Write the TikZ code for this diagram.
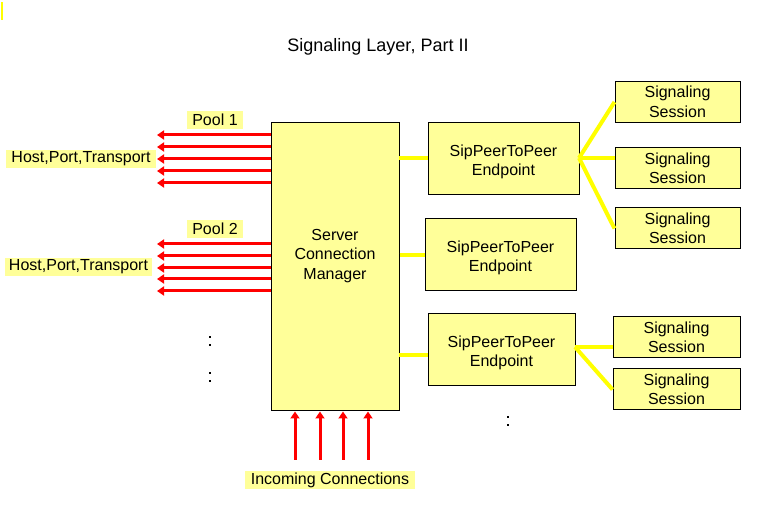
\documentclass[tikz,border=0pt]{standalone}
\usepackage{fontspec}
\setmainfont{Liberation Sans}
\usetikzlibrary{arrows.meta}
\definecolor{boxfill}{HTML}{FFFF99}
\definecolor{conn}{HTML}{FFFF00}
\definecolor{arr}{HTML}{FF0000}
\tikzset{
  box/.style={draw=black, line width=1pt, fill=boxfill, inner sep=0pt},
  btext/.style={align=center, inner sep=0pt, font=\fontsize{16}{19.5}\selectfont},
  lbl/.style={fill=boxfill, inner xsep=3pt, inner ysep=0pt, minimum height=18pt,
    font=\fontsize{16}{19}\selectfont},
  yconn/.style={draw=conn, line width=4pt},
  rarrow/.style={draw=arr, line width=3pt, -{Triangle[length=7pt,width=9pt]}},
}
\begin{document}
\begin{tikzpicture}[x=1pt,y=-1pt]
\useasboundingbox (0,0) rectangle (761,518);
\fill[white] (0,0) rectangle (761,518);
\draw[conn, line width=1.5pt] (2,2) -- (2,20);
\node[font=\fontsize{18}{21}\selectfont] (title) at (378,47) {Signaling Layer, Part II};

% main boxes
\node[box, minimum width=128pt, minimum height=288pt] (scm) at (335,267) {};
\node[btext] (scmt) at (335,256) {Server\\Connection\\Manager};
\node[box, minimum width=151pt, minimum height=72pt] (e1) at (503.5,159) {};
\node[btext] (e1t) at (e1.center) [yshift=-3pt] {SipPeerToPeer\\Endpoint};
\node[box, minimum width=151pt, minimum height=72pt] (e2) at (500.5,255) {};
\node[btext] (e2t) at (e2.center) [yshift=-3pt] {SipPeerToPeer\\Endpoint};
\node[box, minimum width=147pt, minimum height=72pt] (e3) at (501.5,350) {};
\node[btext] (e3t) at (e3.center) [yshift=-3pt] {SipPeerToPeer\\Endpoint};
\node[box, btext, minimum width=125pt, minimum height=41pt] (s1) at (677.5,102) {Signaling\\Session};
\node[box, btext, minimum width=125pt, minimum height=41pt] (s2) at (677.5,168.5) {Signaling\\Session};
\node[box, btext, minimum width=125pt, minimum height=41pt] (s3) at (677.5,228.5) {Signaling\\Session};
\node[box, btext, minimum width=127pt, minimum height=41pt] (s4) at (676.5,337.5) {Signaling\\Session};
\node[box, btext, minimum width=127pt, minimum height=41pt] (s5) at (676.5,389.5) {Signaling\\Session};

% yellow connectors
\coordinate (c1) at (399,158);
\coordinate (c3) at (399,355);
\coordinate (f1) at (579,158);
\coordinate (f2) at (575,347);
\draw[yconn] (c1) -- (c1 -| e1.west);
\draw[yconn] (scm.east |- e2) -- (e2.west);
\draw[yconn] (c3) -- (c3 -| e3.west);
\draw[yconn] (f1) -- (s1.west);
\draw[yconn] (f1) -- (f1 -| s2.west);
\draw[yconn] (f1) -- (s3.west);
\draw[yconn] (f2) -- (f2 -| s4.west);
\draw[yconn] (f2) -- (s5.west);

% labels
\node[lbl, minimum width=56pt] (p1) at (215,120) {Pool 1};
\node[lbl, minimum width=56pt] (p2) at (215,229) {Pool 2};
\node[lbl, minimum width=150pt] (h1) at (81,159) {Host,Port,Transport};
\node[lbl, minimum width=147pt] (h2) at (78.5,267) {Host,Port,Transport};
\node[lbl, minimum width=170pt] (inc) at (330,480) {Incoming Connections};

% outgoing red arrows
\foreach \y in {135,147,159,171,183,244,256,268,279,291} {
  \coordinate (t\y) at (157,\y);
  \draw[rarrow] (scm.west |- t\y) -- (t\y);
}
% incoming red arrows
\foreach \x in {295,320,343,368} {
  \coordinate (b\x) at (\x,460);
  \draw[rarrow] (b\x) -- (b\x |- scm.south);
}

% ellipsis dots
\foreach \p in {(210,337),(210,345),(210,373),(210,381),(508,417),(508,425)} {
  \fill[black] \p ++(-0.8,-0.8) rectangle ++(1.6,1.6);
}
\end{tikzpicture}
\end{document}
